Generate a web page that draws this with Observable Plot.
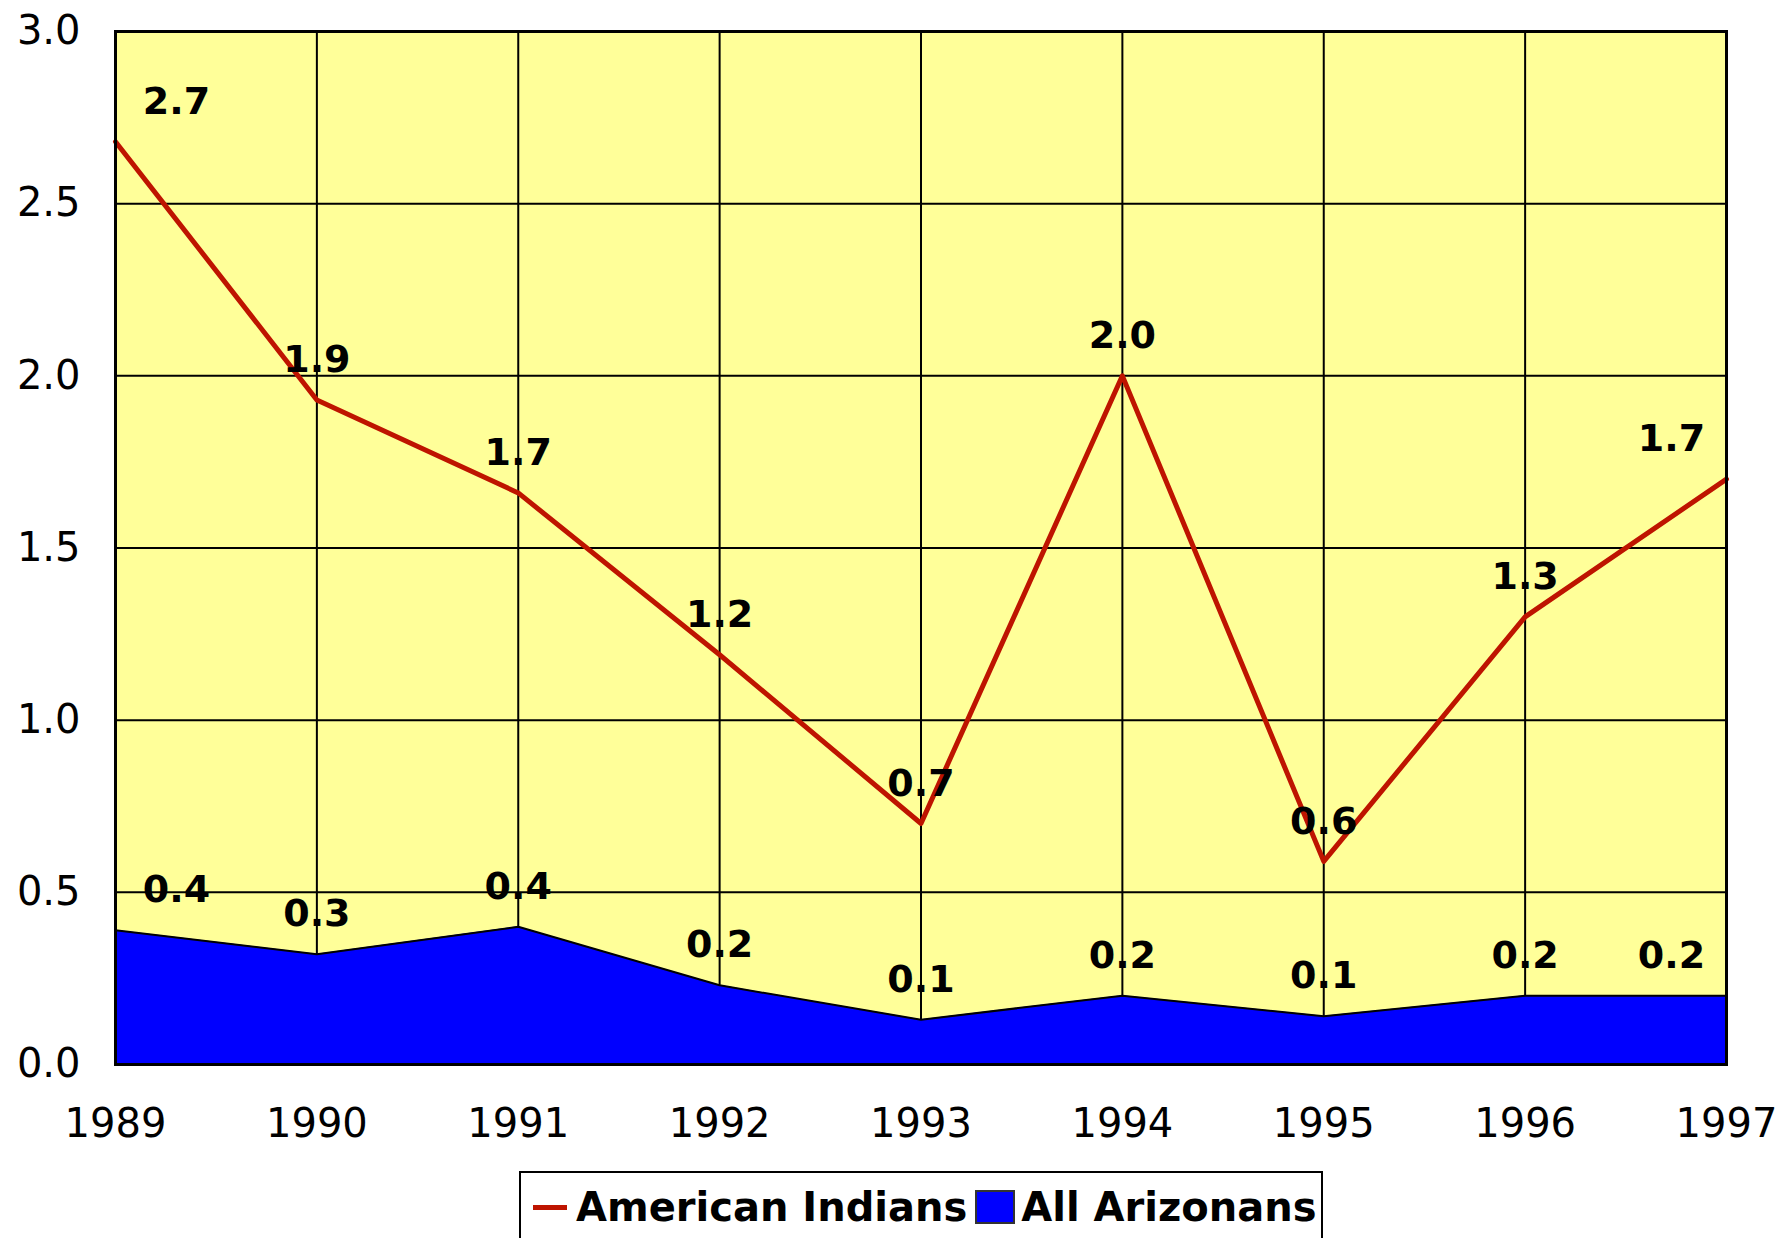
<!DOCTYPE html>
<html>
<head>
<meta charset="utf-8">
<script src="https://cdn.jsdelivr.net/npm/d3@7"></script>
<script src="https://cdn.jsdelivr.net/npm/@observablehq/plot@0.6"></script>
<style>
  html, body { margin: 0; padding: 0; background: #fff; overflow: hidden; }
  body { width: 1785px; height: 1238px; position: relative; font-family: "DejaVu Sans", sans-serif; }
  #chart { position: absolute; left: 0; top: 0; }
  #legend {
    position: absolute; left: 519px; top: 1171px; width: 804px; height: 72px;
    box-sizing: border-box; border: 2px solid #000; background: #fff;
    display: flex; align-items: center; padding-left: 12px;
    font-family: "DejaVu Sans", sans-serif; font-weight: bold; font-size: 40px; color: #000;
    white-space: nowrap;
  }
  .sw-line { width: 34px; height: 5px; background: #BE1400; margin-right: 9px; }
  .sw-box { width: 40px; height: 34px; background: #0000FF; border: 2px solid #333; margin: 0 6px 0 8px; box-sizing: border-box; }
</style>
</head>
<body>
<div id="chart"></div>
<div id="legend"></div>
<script>
// Data
const years = [1989, 1990, 1991, 1992, 1993, 1994, 1995, 1996, 1997];
const americanIndians = [2.68, 1.93, 1.66, 1.19, 0.70, 2.00, 0.59, 1.30, 1.70];
const allArizonans = [0.39, 0.32, 0.40, 0.23, 0.13, 0.20, 0.14, 0.20, 0.20];
const yTicks = [0, 0.5, 1.0, 1.5, 2.0, 2.5, 3.0];
const seriesNames = ["American Indians", "All Arizonans"];

const colors = { indians: "#BE1400", arizonans: "#0000FF", plotBg: "#FFFF99" };

const ind = years.map((y, i) => ({ year: y, value: americanIndians[i] }));
const az = years.map((y, i) => ({ year: y, value: allArizonans[i] }));

const fmt = d3.format(".1f");
const labelFont = { fontFamily: "DejaVu Sans, sans-serif", fontWeight: "bold", fontSize: 38, fill: "#000" };

function labels(data) {
  const n = data.length;
  return [
    Plot.text(data.slice(0, 1), { x: "year", y: "value", text: d => fmt(d.value), dy: -40, dx: 61, ...labelFont }),
    Plot.text(data.slice(1, n - 1), { x: "year", y: "value", text: d => fmt(d.value), dy: -40, ...labelFont }),
    Plot.text(data.slice(n - 1), { x: "year", y: "value", text: d => fmt(d.value), dy: -40, dx: -55, ...labelFont })
  ];
}

const chart = Plot.plot({
  width: 1785,
  height: 1150,
  marginLeft: 115,
  marginRight: 59,
  marginTop: 31,
  marginBottom: 86,
  style: { fontFamily: "DejaVu Sans, sans-serif", fontSize: "40px", color: "#000", background: "#fff", overflow: "visible" },
  x: { domain: [1989, 1997], ticks: years, tickFormat: "d", tickSize: 0, tickPadding: 44, label: null },
  y: { domain: [0, 3], ticks: yTicks, tickFormat: ".1f", tickSize: 0, tickPadding: 35, label: null },
  marks: [
    Plot.frame({ fill: colors.plotBg }),
    Plot.gridX(years, { stroke: "#000", strokeOpacity: 1, strokeWidth: 2 }),
    Plot.gridY(yTicks, { stroke: "#000", strokeOpacity: 1, strokeWidth: 2 }),
    Plot.areaY(az, { x: "year", y: "value", fill: colors.arizonans }),
    Plot.lineY(az, { x: "year", y: "value", stroke: "#000", strokeWidth: 2 }),
    Plot.lineY(ind, { x: "year", y: "value", stroke: colors.indians, strokeWidth: 5 }),
    ...labels(ind),
    ...labels(az),
    Plot.frame({ stroke: "#000", strokeWidth: 3 })
  ]
});
document.getElementById("chart").appendChild(chart);

const legend = document.getElementById("legend");
legend.innerHTML =
  `<div class="sw-line"></div><span>${seriesNames[0]}</span>` +
  `<div class="sw-box"></div><span>${seriesNames[1]}</span>`;
</script>
</body>
</html>
